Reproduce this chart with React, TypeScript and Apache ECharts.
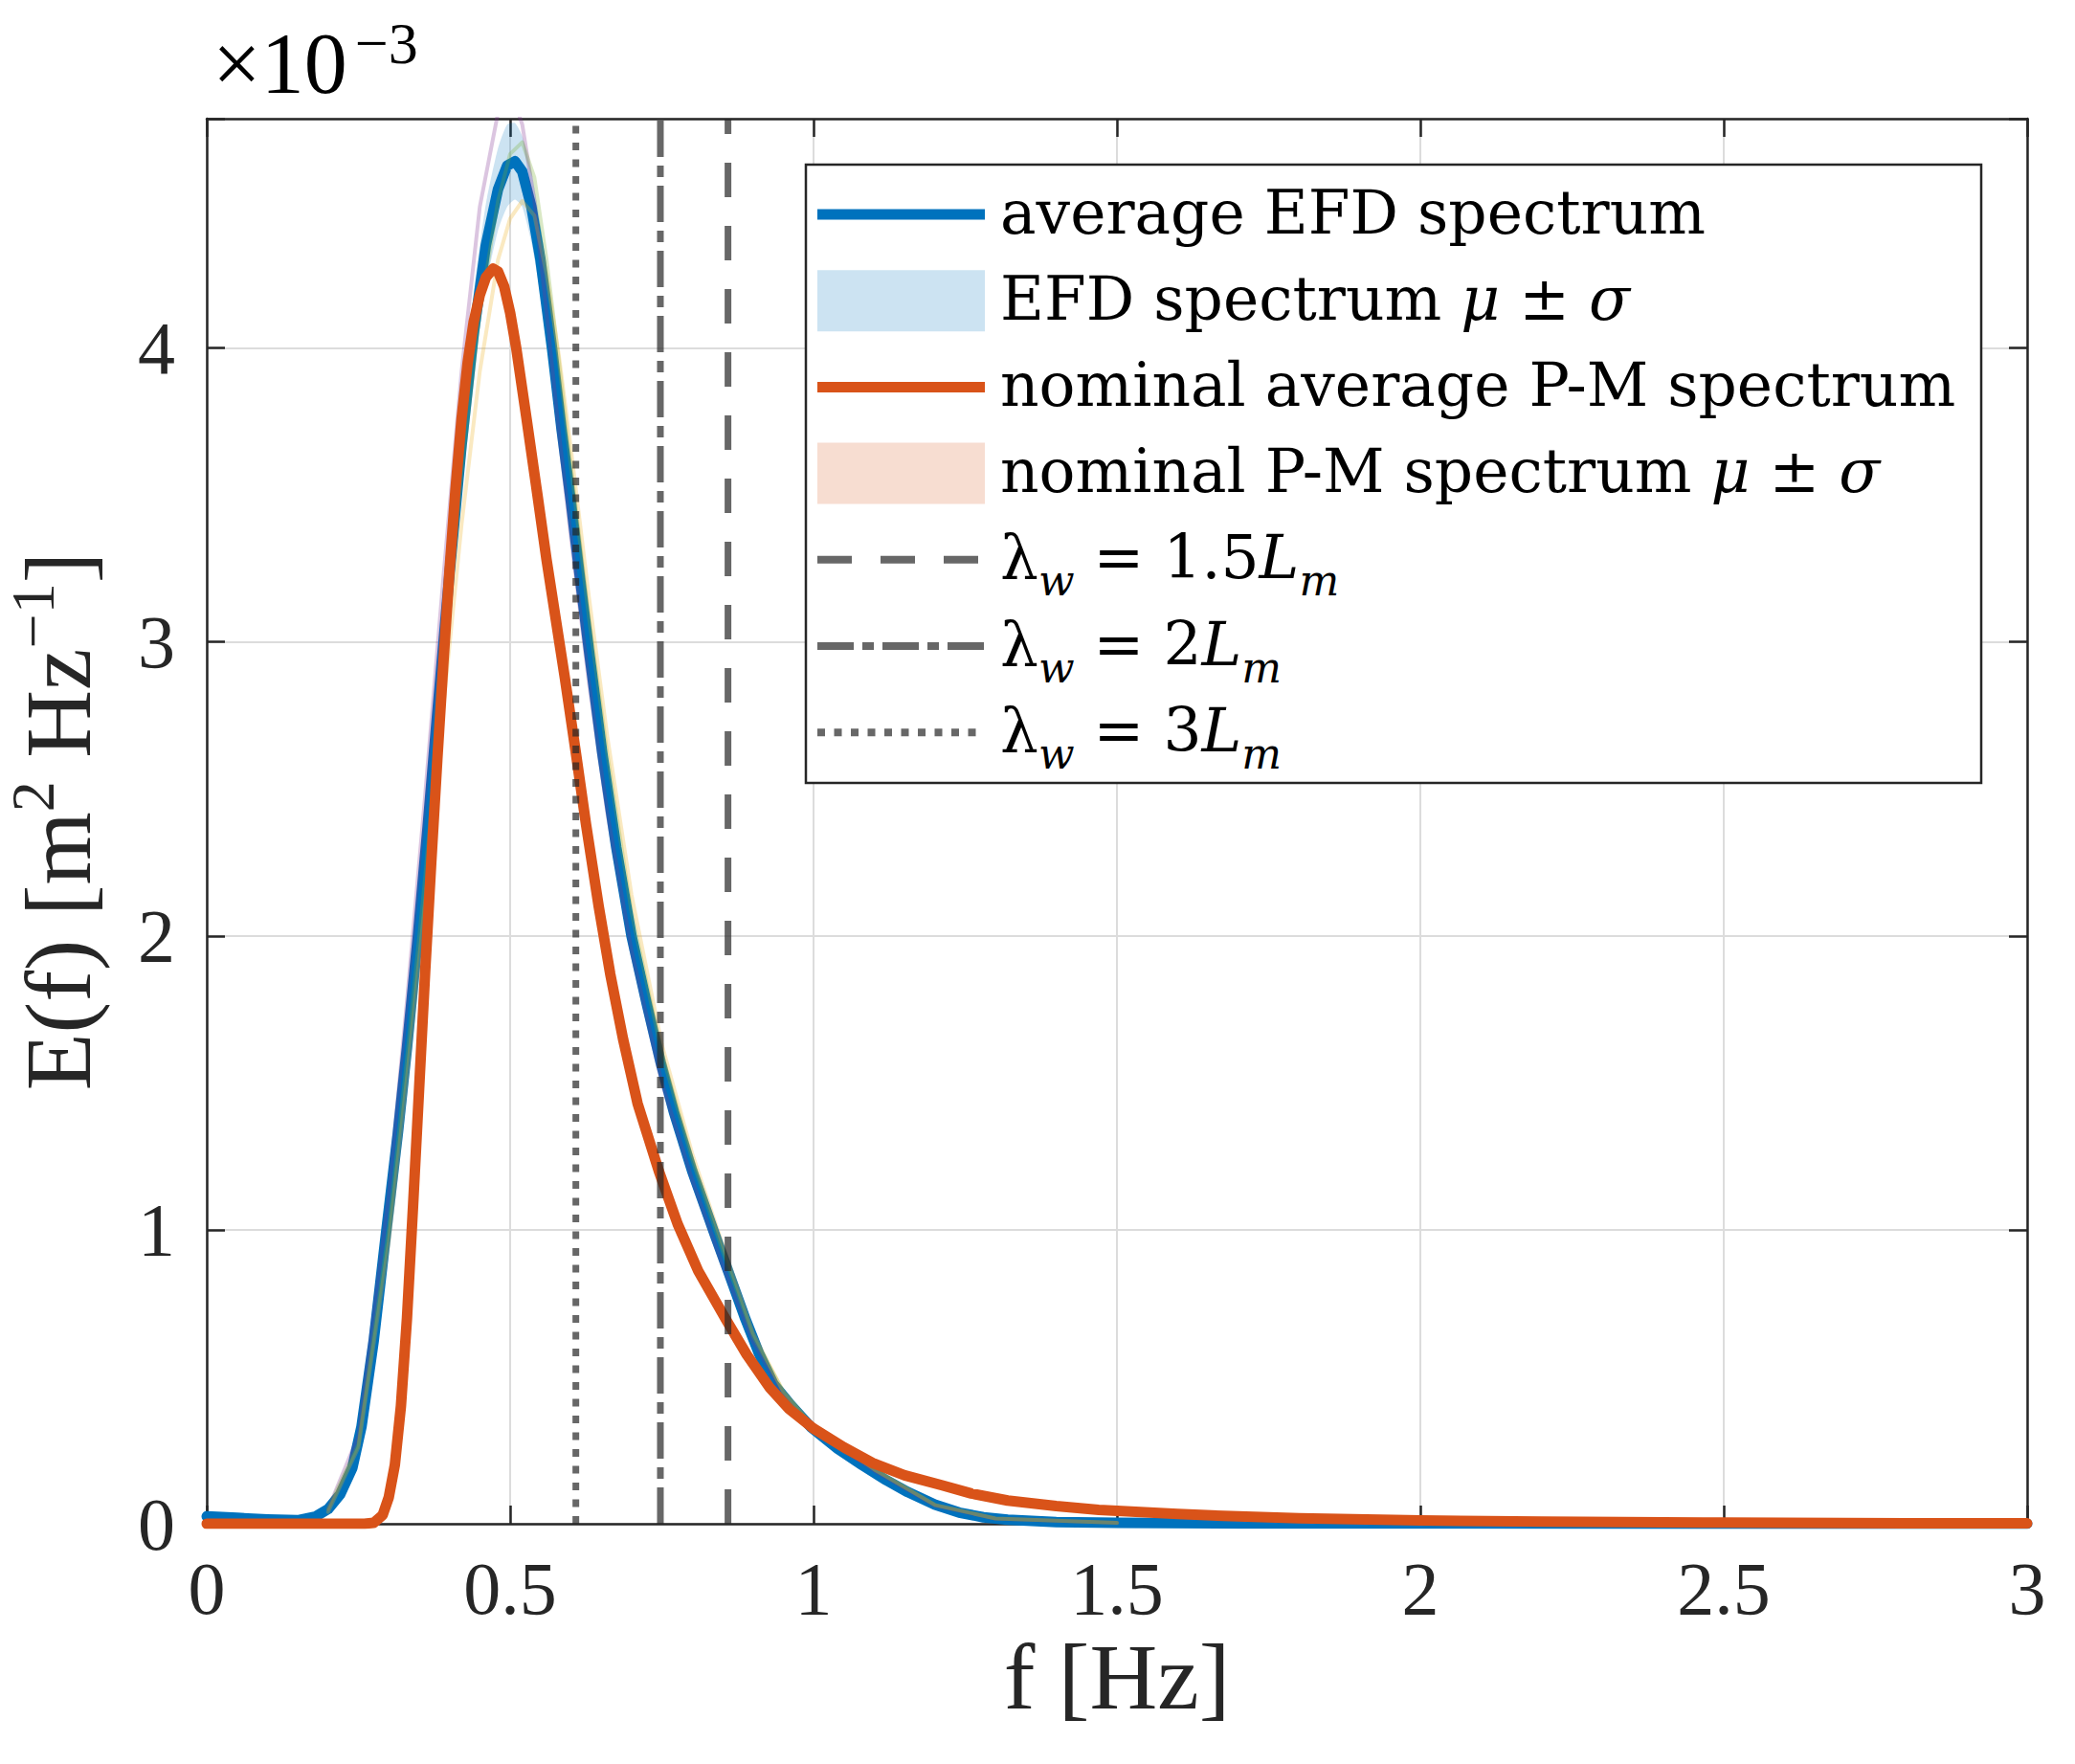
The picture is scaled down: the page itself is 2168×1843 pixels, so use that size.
import React, { useEffect, useRef } from "react";
import * as echarts from "echarts";

// ---------- data (E in units of 1e-3 m^2 Hz^-1) ----------
const blueF = [0, 0.05, 0.10, 0.15, 0.18, 0.20, 0.22, 0.24, 0.255, 0.275, 0.295, 0.315, 0.33, 0.348, 0.364, 0.38, 0.40, 0.42, 0.44, 0.46, 0.48, 0.495, 0.508, 0.52, 0.535, 0.55, 0.569, 0.585, 0.60, 0.615, 0.63, 0.652, 0.675, 0.70, 0.725, 0.748, 0.77, 0.80, 0.838, 0.86, 0.888, 0.91, 0.934, 0.96, 0.995, 1.04, 1.08, 1.12, 1.155, 1.20, 1.24, 1.28, 1.32, 1.40, 1.50, 1.70, 2.0, 2.5, 3.0];
const blueE = [0.025, 0.02, 0.015, 0.012, 0.025, 0.05, 0.10, 0.19, 0.33, 0.62, 0.98, 1.33, 1.62, 2.0, 2.37, 2.76, 3.23, 3.67, 4.05, 4.35, 4.54, 4.62, 4.635, 4.6, 4.48, 4.3, 4.0, 3.72, 3.48, 3.22, 2.97, 2.62, 2.3, 2.0, 1.77, 1.57, 1.4, 1.2, 0.98, 0.855, 0.695, 0.58, 0.475, 0.41, 0.33, 0.255, 0.2, 0.148, 0.108, 0.065, 0.038, 0.022, 0.014, 0.006, 0.003, 0.001, 0.0005, 0.0002, 0.0001];
const blueSigma = [0.005, 0.005, 0.005, 0.005, 0.008, 0.01, 0.02, 0.03, 0.04, 0.05, 0.06, 0.07, 0.08, 0.09, 0.1, 0.11, 0.12, 0.13, 0.14, 0.14, 0.14, 0.14, 0.13, 0.12, 0.12, 0.12, 0.12, 0.11, 0.1, 0.1, 0.09, 0.08, 0.07, 0.07, 0.06, 0.06, 0.05, 0.05, 0.04, 0.04, 0.03, 0.03, 0.03, 0.02, 0.02, 0.02, 0.015, 0.01, 0.01, 0.008, 0.005, 0.004, 0.003, 0.002, 0.001, 0.0005, 0, 0, 0];

const orangeF = [0, 0.10, 0.20, 0.26, 0.275, 0.29, 0.30, 0.31, 0.32, 0.33, 0.34, 0.35, 0.36, 0.37, 0.38, 0.39, 0.40, 0.41, 0.42, 0.43, 0.44, 0.45, 0.46, 0.472, 0.48, 0.49, 0.50, 0.51, 0.527, 0.545, 0.56, 0.575, 0.59, 0.6085, 0.625, 0.646, 0.665, 0.686, 0.71, 0.745, 0.776, 0.81, 0.857, 0.89, 0.927, 0.96, 1.0, 1.05, 1.097, 1.15, 1.21, 1.26, 1.32, 1.40, 1.47, 1.60, 1.70, 1.80, 2.0, 2.2, 2.5, 2.8, 3.0];
const orangeE = [0, 0, 0, 0, 0.003, 0.03, 0.09, 0.2, 0.4, 0.7, 1.08, 1.48, 1.88, 2.25, 2.6, 2.93, 3.24, 3.52, 3.76, 3.95, 4.09, 4.18, 4.24, 4.27, 4.26, 4.21, 4.12, 4.0, 3.76, 3.5, 3.28, 3.08, 2.88, 2.62, 2.38, 2.1, 1.87, 1.65, 1.43, 1.2, 1.02, 0.86, 0.69, 0.575, 0.465, 0.39, 0.324, 0.26, 0.207, 0.165, 0.132, 0.103, 0.079, 0.06, 0.047, 0.033, 0.025, 0.019, 0.011, 0.007, 0.004, 0.002, 0.0015];
const orangeSigma = [0, 0, 0, 0, 0, 0.002, 0.004, 0.006, 0.008, 0.01, 0.012, 0.013, 0.014, 0.015, 0.015, 0.015, 0.015, 0.015, 0.015, 0.015, 0.015, 0.015, 0.015, 0.015, 0.015, 0.015, 0.015, 0.015, 0.014, 0.013, 0.012, 0.012, 0.011, 0.011, 0.01, 0.01, 0.009, 0.008, 0.007, 0.006, 0.005, 0.004, 0.004, 0.003, 0.003, 0.002, 0.002, 0.002, 0.001, 0.001, 0.001, 0.001, 0, 0, 0, 0, 0, 0, 0, 0, 0, 0, 0];

// individual EFD runs (faint)
const runF = [0.2, 0.25, 0.30, 0.33, 0.36, 0.39, 0.42, 0.45, 0.48, 0.50, 0.52, 0.54, 0.56, 0.58, 0.60, 0.63, 0.66, 0.70, 0.75, 0.80, 0.85, 0.90, 0.95, 1.0, 1.1, 1.2, 1.3, 1.5];
const runPurple = [0.05, 0.3, 1.12, 1.78, 2.48, 3.22, 3.92, 4.48, 4.8, 4.88, 4.76, 4.5, 4.12, 3.72, 3.36, 2.86, 2.42, 1.95, 1.5, 1.17, 0.88, 0.62, 0.44, 0.32, 0.18, 0.062, 0.017, 0.003];
const runGreen = [0.05, 0.27, 1.0, 1.58, 2.2, 2.9, 3.57, 4.12, 4.5, 4.66, 4.7, 4.58, 4.3, 3.96, 3.6, 3.08, 2.62, 2.08, 1.6, 1.24, 0.93, 0.64, 0.45, 0.33, 0.185, 0.064, 0.018, 0.003];
const runYellow = [0.04, 0.26, 0.96, 1.52, 2.12, 2.78, 3.4, 3.92, 4.3, 4.44, 4.5, 4.45, 4.25, 3.98, 3.66, 3.15, 2.68, 2.14, 1.63, 1.26, 0.95, 0.65, 0.45, 0.33, 0.185, 0.064, 0.018, 0.003];

// wavelength reference frequencies [Hz]: 1.5Lm, 2Lm, 3Lm
const lambdaF = [0.859, 0.7476, 0.6083];
const lambdaNames = ["λw = 1.5Lm", "λw = 2Lm", "λw = 3Lm"];

const X_MIN = 0;
const X_MAX = 3;
const X_STEP = 0.5;
const Y_MIN = 0;
const Y_MAX = 4.78;
const Y_STEP = 1;

// ---------- styles ----------
const BLUE = "#0072BD";
const ORANGE = "#D95319";
const BLUE_BAND = "rgba(0,114,189,0.2)";
const ORANGE_BAND = "rgba(217,83,25,0.2)";
const XLINE = "#262626";
const INK = "#262626";
const SERIF = "Liberation Serif";
const LEG_FONT = "DejaVu Serif";
const dashes: number[][] = [[36, 30], [38, 9, 12, 9], [8, 9.5]];

const pairs = (xs: number[], ys: number[]) => xs.map((x, i) => [x, ys[i]]);

function bandSeries(name: string, xs: number[], ys: number[], sig: number[], fill: string) {
  return {
    type: "custom",
    name,
    data: [[0, 0]],
    silent: true,
    clip: true,
    renderItem: (_p: any, api: any) => {
      const up = xs.map((x, i) => api.coord([x, ys[i] + sig[i]]));
      const lo = xs.map((x, i) => api.coord([x, Math.max(0, ys[i] - sig[i])])).reverse();
      return { type: "polygon", shape: { points: up.concat(lo), smooth: 0.2 }, style: { fill } };
    },
  };
}

function lineSeries(name: string, data: number[][], color: string, width: number, opacity = 1) {
  return {
    type: "line",
    name,
    data,
    symbol: "none",
    showSymbol: false,
    smooth: false,
    lineStyle: { color, width, opacity, cap: "round", join: "round" },
    silent: true,
  };
}

export default function App() {
  const ref = useRef<HTMLDivElement>(null);
  useEffect(() => {
    document.body.style.margin = "0";
    document.body.style.overflow = "hidden";
    if (!ref.current) return;
    const chart = echarts.init(ref.current, undefined, { renderer: "svg" });

    const GL = 216, GT = 124, GR = 2118, GB = 1592;

    const axisLine = { show: true, onZero: false, lineStyle: { color: INK, width: 2.5 } };
    const axisTick = { show: true, inside: true, length: 19, lineStyle: { color: INK, width: 2.5 } };

    const series: any[] = [
      bandSeries("EFD spectrum μ ± σ", blueF, blueE, blueSigma, BLUE_BAND),
      bandSeries("nominal P-M spectrum μ ± σ", orangeF, orangeE, orangeSigma, ORANGE_BAND),
      lineSeries("average EFD spectrum", pairs(blueF, blueE), BLUE, 11),
      lineSeries("EFD run A", pairs(runF, runPurple), "#7E2F8E", 4, 0.28),
      lineSeries("EFD run B", pairs(runF, runGreen), "#77AC30", 4, 0.28),
      lineSeries("EFD run C", pairs(runF, runYellow), "#EDB120", 4, 0.28),
      lineSeries("nominal average P-M spectrum", pairs(orangeF, orangeE), ORANGE, 11),
      ...lambdaF.map((f, i) => ({
        type: "line",
        name: lambdaNames[i],
        data: [[f, Y_MIN], [f, Y_MAX]],
        symbol: "none",
        silent: true,
        lineStyle: { color: XLINE, width: 7, opacity: 0.7, type: dashes[i], cap: "butt" },
      })),
    ];

    // legend (MATLAB-style box) drawn with graphic elements
    const LX0 = 842, LY0 = 172, LW = 1228, LH = 646;
    const rowY = (i: number) => 224 + i * 90.2;
    const SX1 = 854, SX2 = 1029, TX = 1045;
    const legendRich = {
      n: { fontFamily: LEG_FONT, fontSize: 63, lineHeight: 92, color: "#1a1a1a" },
      i: { fontFamily: LEG_FONT, fontSize: 63, lineHeight: 92, fontStyle: "italic", color: "#1a1a1a" },
      s: { fontFamily: LEG_FONT, fontSize: 44, fontStyle: "italic", verticalAlign: "bottom", color: "#1a1a1a" },
    };
    const legendTexts = [
      "{n|average EFD spectrum}",
      "{n|EFD spectrum }{i|μ}{n| ± }{i|σ}",
      "{n|nominal average P-M spectrum}",
      "{n|nominal P-M spectrum }{i|μ}{n| ± }{i|σ}",
      "{n|λ}{s|w}{n| = 1.5}{i|L}{s|m}",
      "{n|λ}{s|w}{n| = 2}{i|L}{s|m}",
      "{n|λ}{s|w}{n| = 3}{i|L}{s|m}",
    ];
    const samples: any[] = [
      { type: "line", shape: { x1: SX1, y1: rowY(0), x2: SX2, y2: rowY(0) }, style: { stroke: BLUE, lineWidth: 11 } },
      { type: "rect", shape: { x: SX1, y: rowY(1) - 32, width: SX2 - SX1, height: 64 }, style: { fill: BLUE_BAND } },
      { type: "line", shape: { x1: SX1, y1: rowY(2), x2: SX2, y2: rowY(2) }, style: { stroke: ORANGE, lineWidth: 11 } },
      { type: "rect", shape: { x: SX1, y: rowY(3) - 32, width: SX2 - SX1, height: 64 }, style: { fill: ORANGE_BAND } },
      ...dashes.map((d, k) => ({
        type: "line",
        shape: { x1: SX1, y1: rowY(4 + k), x2: SX2, y2: rowY(4 + k) },
        style: { stroke: XLINE, lineWidth: 8, lineDash: d, lineCap: "butt", opacity: 0.7 },
      })),
    ];

    const graphic: any[] = [
      {
        type: "rect",
        z: 100,
        shape: { x: LX0, y: LY0, width: LW, height: LH },
        style: { fill: "#ffffff", stroke: INK, lineWidth: 2.5 },
      },
      ...samples.map((s) => ({ ...s, z: 101 })),
      ...legendTexts.map((t, i) => ({
        type: "text",
        z: 102,
        x: TX,
        y: rowY(i) - 2,
        style: { text: t, rich: legendRich, align: "left", verticalAlign: "middle" },
      })),
      {
        type: "text",
        z: 102,
        x: 222,
        y: 14,
        style: {
          text: "{a|×10}{b|−3}",
          align: "left",
          verticalAlign: "top",
          rich: {
            a: { fontFamily: SERIF, fontSize: 90, lineHeight: 104, color: INK },
            b: { fontFamily: SERIF, fontSize: 62, verticalAlign: "top", color: INK, padding: [0, 0, 0, 8] },
          },
        },
      },
    ];

    const option: any = {
      animation: false,
      backgroundColor: "#ffffff",
      textStyle: { fontFamily: SERIF, color: INK },
      grid: { left: GL, top: GT, width: GR - GL, height: GB - GT, containLabel: false, outerBoundsMode: "none" },
      xAxis: [
        {
          type: "value",
          min: X_MIN,
          max: X_MAX,
          interval: X_STEP,
          position: "bottom",
          name: "f [Hz]",
          nameLocation: "middle",
          nameGap: 108,
          nameTextStyle: { fontFamily: SERIF, fontSize: 98, color: INK },
          axisLine,
          axisTick,
          axisLabel: { show: true, margin: 28, fontFamily: SERIF, fontSize: 78, color: INK },
          splitLine: { show: true, lineStyle: { color: "#dcdcdc", width: 2 } },
        },
        {
          type: "value",
          min: X_MIN,
          max: X_MAX,
          interval: X_STEP,
          position: "top",
          axisLine,
          axisTick,
          axisLabel: { show: false },
          splitLine: { show: false },
        },
      ],
      yAxis: [
        {
          type: "value",
          min: Y_MIN,
          max: Y_MAX,
          interval: Y_STEP,
          position: "left",
          name: "{t|E(f) [m}{s|2}{t| Hz}{s|−1}{t|]}",
          nameLocation: "middle",
          nameRotate: 90,
          nameGap: 96,
          nameTextStyle: {
            rich: {
              t: { fontFamily: SERIF, fontSize: 98, lineHeight: 118, color: INK },
              s: { fontFamily: SERIF, fontSize: 64, verticalAlign: "top", color: INK },
            },
          },
          axisLine,
          axisTick,
          axisLabel: {
            show: true,
            margin: 33,
            fontFamily: SERIF,
            fontSize: 78,
            color: INK,
            formatter: (v: number) => (Math.abs(v - Math.round(v)) < 1e-9 ? String(Math.round(v)) : ""),
          },
          splitLine: { show: true, lineStyle: { color: "#dcdcdc", width: 2 } },
        },
        {
          type: "value",
          min: Y_MIN,
          max: Y_MAX,
          interval: Y_STEP,
          position: "right",
          axisLine,
          axisTick,
          axisLabel: { show: false },
          splitLine: { show: false },
        },
      ],
      series,
      graphic,
    };
    chart.setOption(option);
    return () => chart.dispose();
  }, []);
  return <div ref={ref} style={{ width: 2168, height: 1843 }} />;
}
